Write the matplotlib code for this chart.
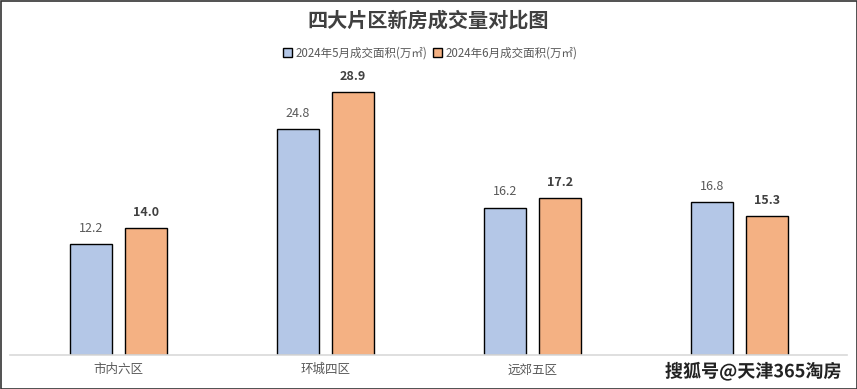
import matplotlib
matplotlib.use("Agg")
import matplotlib.pyplot as plt
import matplotlib.patheffects as pe
import numpy as np
from matplotlib.patches import Rectangle

plt.rcParams['font.family'] = ['Noto Sans CJK SC', 'DejaVu Sans']

categories = ["市内六区", "环城四区", "远郊五区", "滨海新区"]
may = [12.2, 24.8, 16.2, 16.8]
june = [14.0, 28.9, 17.2, 15.3]
series_names = ["2024年5月成交面积(万㎡)", "2024年6月成交面积(万㎡)"]
title = "四大片区新房成交量对比图"
watermark = "搜狐号@天津365淘房"

W, H = 857, 389
fig = plt.figure(figsize=(W/100, H/100), dpi=100)
ax = fig.add_axes([15/W, (H-355)/H, (843-15)/W, (355-82)/H])

x = np.arange(len(categories))
bw = 0.203
off = 0.133
b1 = ax.bar(x - off, may, bw, color="#B4C7E7", edgecolor="black", linewidth=1.0, label=series_names[0])
b2 = ax.bar(x + off, june, bw, color="#F4B183", edgecolor="black", linewidth=1.0, label=series_names[1])

for r, v in zip(b1, may):
    ax.text(r.get_x() + r.get_width()/2, v + 1.0, f"{v:.1f}", ha="center", va="bottom",
            fontsize=9, color="#595959")
for r, v in zip(b2, june):
    ax.text(r.get_x() + r.get_width()/2, v + 1.0, f"{v:.1f}", ha="center", va="bottom",
            fontsize=9, color="#404040", fontweight="bold")

ax.set_xlim(-0.5, len(categories) - 0.5)
ax.set_ylim(0, 30)
for s in ["top", "right", "left", "bottom"]:
    ax.spines[s].set_visible(False)
ax.set_yticks([])
ax.set_xticks(x)
# the last category label is hidden under the watermark in the reference
shown = categories[:-1] + [""]
ax.set_xticklabels(shown, fontsize=9, color="#595959")
ax.tick_params(axis="x", length=0, pad=6)
ax.patch.set_alpha(0)

# baseline
fig.add_artist(plt.Line2D([10/W, 847/W], [(H-355)/H]*2, color="#D9D9D9", linewidth=1.2))

fig.text(0.5, 1 - 20/H, title, ha="center", va="center", fontsize=14.5,
         fontweight="bold", color="#404040")

leg = fig.legend(handles=[b1, b2], labels=series_names, loc="center",
                 bbox_to_anchor=(430/W, 1 - 53/H), ncol=2, frameon=False,
                 fontsize=8.3, handlelength=0.8, handleheight=0.8, handletextpad=0.3,
                 columnspacing=0.5)
for t in leg.get_texts():
    t.set_color("#595959")

# watermark
fig.text(753/W, 1 - 372/H, watermark, ha="center", va="center", fontsize=13,
         fontweight="bold", color="#222222",
         path_effects=[pe.withStroke(linewidth=2, foreground="white")])

# border
fig.add_artist(Rectangle((0.5/W, 0.5/H), 1 - 1/W, 1 - 1/H, transform=fig.transFigure,
                         fill=False, edgecolor="#333333", linewidth=1.2))

fig.savefig("out.png", dpi=100)
